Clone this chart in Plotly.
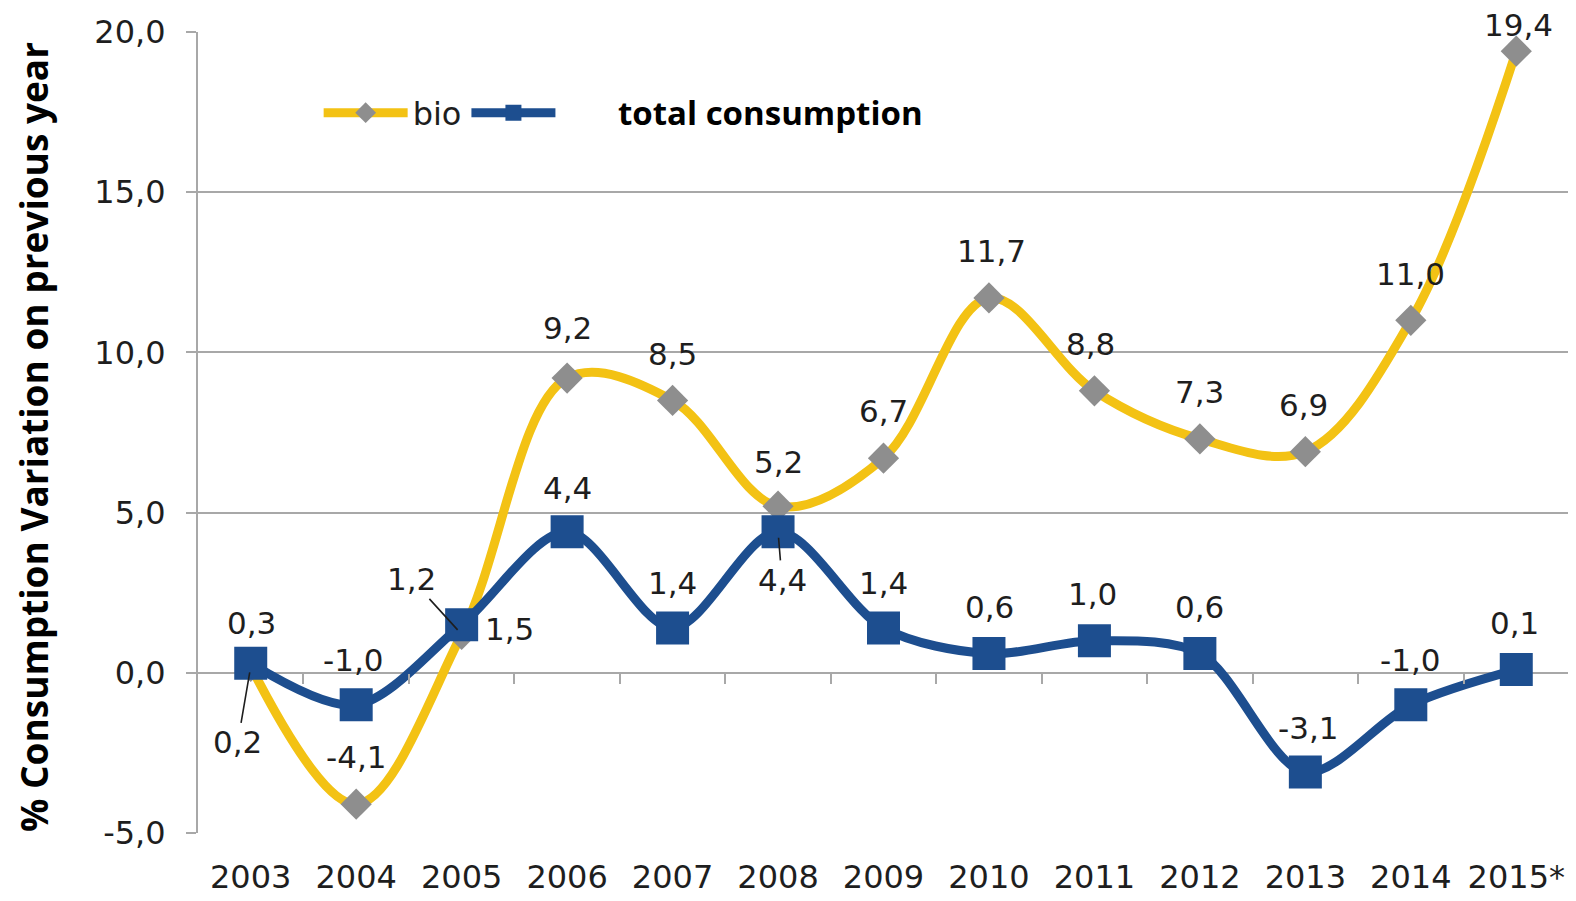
import plotly.graph_objects as go

years = ["2003", "2004", "2005", "2006", "2007", "2008", "2009", "2010",
         "2011", "2012", "2013", "2014", "2015*"]
bio = [0.2, -4.1, 1.2, 9.2, 8.5, 5.2, 6.7, 11.7, 8.8, 7.3, 6.9, 11.0, 19.4]
total = [0.3, -1.0, 1.5, 4.4, 1.4, 4.4, 1.4, 0.6, 1.0, 0.6, -3.1, -1.0, 0.1]
y_ticks = [-5, 0, 5, 10, 15, 20]

# label offsets (pixels) for data labels: (ax, ay, leader line)
bio_off = [(-13, 76, True), (0, -47, False), (-50, -55, True), (0, -50, False),
           (0, -46, False), (0, -44, False), (0, -47, False), (3, -47, False),
           (-4, -47, False), (0, -47, False), (-2, -47, False), (0, -46, False),
           (2, -26, False)]
tot_off = [(1, -40, False), (-3, -45, False), (48, 4, False), (0, -44, False),
           (0, -45, False), (4, 48, True), (0, -45, False), (1, -47, False),
           (-2, -47, False), (0, -47, False), (3, -44, False), (0, -45, False),
           (-2, -47, False)]

YELLOW = "#F3C214"
BLUE = "#1D4E8F"
GRAY_MK = "#8E8E8E"
GRID = "#A8A8A8"
TXT = "#1E1E1E"
NUMFONT = "DejaVu Sans"

def fmt(v):
    return f"{v:.1f}".replace(".", ",")

fig = go.Figure()
fig.add_trace(go.Scatter(
    x=years, y=bio, name="bio", mode="lines+markers",
    line=dict(color=YELLOW, width=9, shape="spline", smoothing=1.0),
    marker=dict(symbol="diamond", size=24, color=GRAY_MK),
))
fig.add_trace(go.Scatter(
    x=years, y=total, name="&nbsp;&nbsp;", mode="lines+markers",
    line=dict(color=BLUE, width=9, shape="spline", smoothing=0.9),
    marker=dict(symbol="square", size=33, color=BLUE),
))

# invisible trace for boundary ticks along the zero line
fig.add_trace(go.Scatter(x=[-0.5, len(years) - 0.5], y=[0, 0], xaxis="x2",
                         mode="lines", line=dict(width=0), showlegend=False,
                         hoverinfo="skip"))

annotations = []
for series, offs in ((bio, bio_off), (total, tot_off)):
    for i, (yv, (ax, ay, lead)) in enumerate(zip(series, offs)):
        annotations.append(dict(
            x=i, y=yv, xref="x", yref="y", text=fmt(yv),
            showarrow=True, ax=ax, ay=ay,
            arrowcolor=TXT if lead else "rgba(0,0,0,0)",
            arrowwidth=1.6, arrowhead=0, standoff=6 if lead else 0,
            font=dict(family=NUMFONT, size=31, color=TXT),
        ))

annotations.append(dict(
    xref="paper", yref="paper", x=-0.12, y=0.495,
    text="<b>% Consumption Variation on previous year</b>",
    showarrow=False, textangle=-90, xanchor="center", yanchor="middle",
    font=dict(family="Open Sans", size=37, color="#000000"),
))
annotations.append(dict(
    xref="paper", yref="paper", x=0.305, y=0.899, text="<b>total consumption</b>",
    showarrow=False, xanchor="left", yanchor="middle",
    font=dict(family="Open Sans", size=33, color="#000000"),
))

fig.update_layout(
    width=1568, height=893,
    margin=dict(l=190, r=5, t=21, b=68),
    paper_bgcolor="white", plot_bgcolor="white",
    showlegend=True,
    legend=dict(orientation="h", x=0.088, y=0.899, xanchor="left", yanchor="middle",
                font=dict(family=NUMFONT, size=32, color=TXT),
                bgcolor="rgba(0,0,0,0)", itemwidth=84, tracegroupgap=0),
    xaxis=dict(type="category", categoryorder="array", categoryarray=years,
               range=[-0.5, len(years) - 0.5], showgrid=False, showline=False,
               zeroline=False, ticks="", ticklabelstandoff=22,
               tickfont=dict(family=NUMFONT, size=32, color=TXT)),
    xaxis2=dict(overlaying="x", anchor="free", position=0.2, range=[-0.5, len(years) - 0.5],
                tickvals=[i + 0.5 for i in range(len(years) - 1)], ticks="outside",
                ticklen=10, tickwidth=2, tickcolor=GRID, showticklabels=False,
                showgrid=False, zeroline=False, showline=False),
    yaxis=dict(range=[-5, 20], tickvals=y_ticks, ticktext=[fmt(v) for v in y_ticks],
               showgrid=True, gridcolor=GRID, gridwidth=2, zeroline=True,
               zerolinecolor=GRID, zerolinewidth=2, showline=True, linecolor=GRID,
               linewidth=2, mirror=True, ticks="outside", ticklen=10, tickwidth=2,
               tickcolor=GRID, ticklabelstandoff=14,
               tickfont=dict(family=NUMFONT, size=32, color=TXT)),
    annotations=annotations,
)

fig.write_html("out.html")
